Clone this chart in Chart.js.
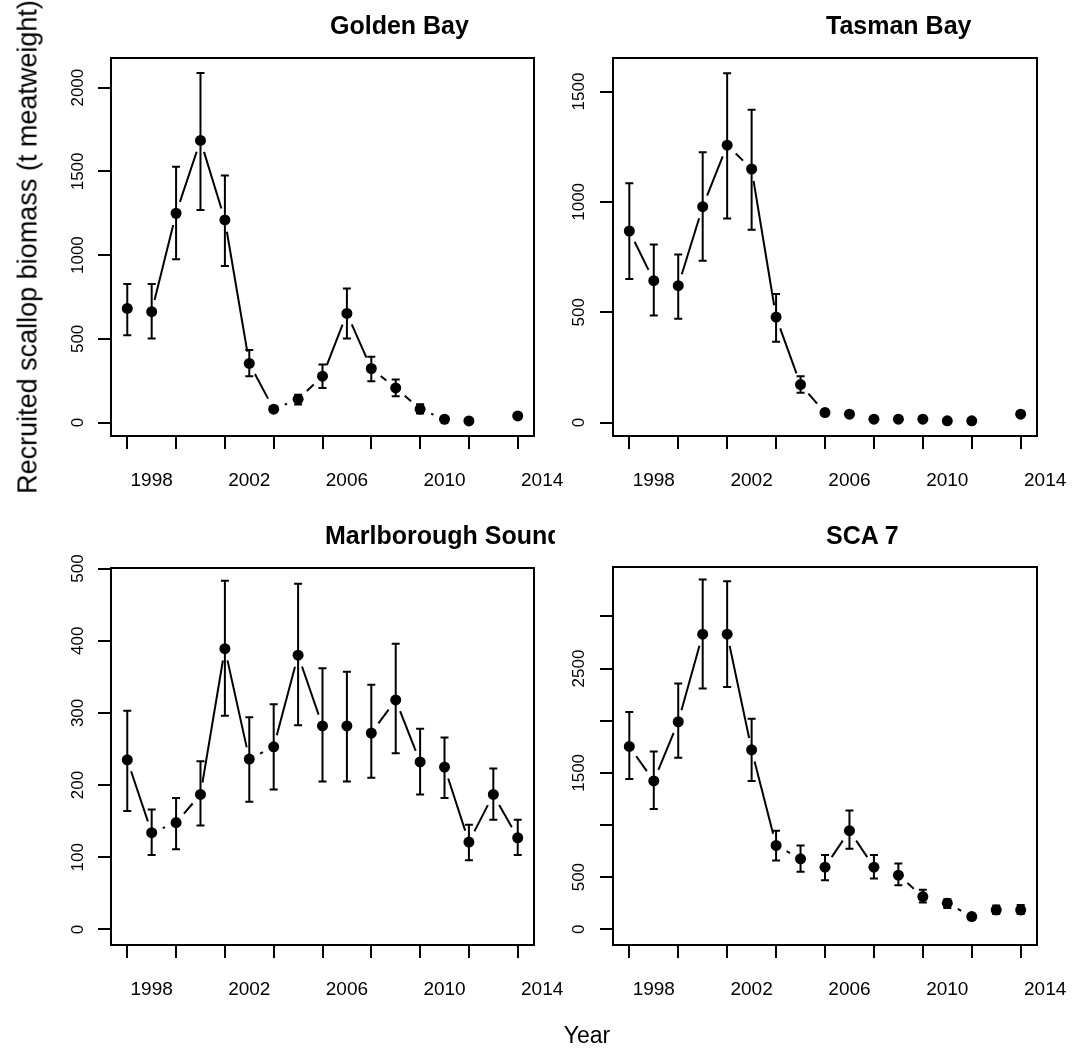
<!DOCTYPE html>
<html>
<head>
<meta charset="utf-8">
<script src="https://cdn.jsdelivr.net/npm/chart.js@4.4.0/dist/chart.umd.min.js"></script>
<style>
body { margin:0; background:#fff; width:1072px; height:1052px; position:relative; overflow:hidden; font-family:"Liberation Sans", Arial, sans-serif; color:#000; }
canvas { position:absolute; }
.ttl { position:absolute; font-weight:bold; font-size:25px; line-height:28px; white-space:nowrap; }
.clip { position:absolute; overflow:hidden; }
.lab { position:absolute; white-space:nowrap; transform:translate(-50%,-50%); }
</style>
</head>
<body>
<canvas id="gb" width="565" height="520" style="left:0px;top:0px"></canvas>
<canvas id="tb" width="532" height="520" style="left:540px;top:0px"></canvas>
<canvas id="ms" width="565" height="520" style="left:0px;top:505px"></canvas>
<canvas id="sc" width="532" height="520" style="left:540px;top:505px"></canvas>

<div class="ttl" style="left:330px;top:11px">Golden Bay</div>
<div class="ttl" style="left:826px;top:11px">Tasman Bay</div>
<div class="clip" style="left:0px;top:515px;width:555px;height:40px">
  <div class="ttl" style="left:325px;top:6px">Marlborough Sounds</div>
</div>
<div class="ttl" style="left:826px;top:521px">SCA 7</div>

<div class="lab" style="left:28px;top:247px;font-size:27px;transform:translate(-50%,-50%) rotate(-90deg)">Recruited scallop biomass (t meatweight)</div>
<div class="lab" style="left:587px;top:1035px;font-size:23px">Year</div>

<script>
// survey years (x positions of every estimate)
const years = [1997, 1998, 1999, 2000, 2001, 2002, 2003, 2004, 2005, 2006, 2007, 2008, 2009, 2010, 2011, 2012, 2013];
const xTickYears = [1997, 1999, 2001, 2003, 2005, 2007, 2009, 2011, 2013];
const xLabelYears = [1998, 2002, 2006, 2010, 2014];

// Golden Bay
const gbBiomass = [682, 662, 1250, 1685, 1210, 353, 80, 140, 277, 652, 323, 207, 80, 20, 10, null, 40];
const gbLower   = [522, 502, 975, 1270, 935, 277, 64, 108, 207, 502, 247, 158, 54, 12, 4, null, 28];
const gbUpper   = [827, 827, 1527, 2088, 1476, 433, 98, 167, 347, 800, 393, 257, 110, 30, 16, null, 54];
const gbYTicks  = [0, 500, 1000, 1500, 2000];

// Tasman Bay
const tbBiomass = [868, 643, 620, 978, 1257, 1149, 478, 172, 45, 38, 15, 15, 15, 8, 8, null, 38];
const tbLower   = [650, 485, 470, 733, 925, 874, 366, 135, 33, 27, 8, 8, 8, 3, 3, null, 27];
const tbUpper   = [1084, 807, 762, 1225, 1583, 1417, 582, 210, 58, 50, 22, 22, 22, 13, 13, null, 50];
const tbYTicks  = [0, 500, 1000, 1500];

// Marlborough Sounds
const msBiomass = [235, 134, 148, 187, 389, 236, 253, 380, 282, 282, 272, 318, 232, 225, 121, 187, 127];
const msLower   = [164, 103, 111, 144, 296, 177, 194, 283, 205, 205, 210, 244, 187, 182, 96, 152, 103];
const msUpper   = [303, 166, 182, 233, 483, 294, 312, 479, 362, 357, 339, 396, 278, 266, 145, 223, 152];
const msYTicks  = [0, 100, 200, 300, 400, 500];

// SCA 7
const scBiomass = [1753, 1423, 1990, 2830, 2830, 1721, 804, 676, 596, 946, 596, 519, 314, 250, 122, 186, 186];
const scLower   = [1442, 1154, 1644, 2308, 2324, 1423, 660, 551, 471, 772, 487, 423, 256, 205, 95, 147, 147];
const scUpper   = [2083, 1705, 2356, 3353, 3337, 2019, 946, 804, 712, 1138, 712, 631, 378, 288, 150, 228, 234];
const scYTicks  = [0, 500, 1000, 1500, 2000, 2500, 3000];
const scYLabels = ['0', '500', '', '1500', '', '2500', ''];

const FONT = '"Liberation Sans", Arial, sans-serif';
const TICK = 13, GAP = 12, CAP = 4, YW = 60;

function noPad(s) { s.paddingLeft = 0; s.paddingRight = 0; s.paddingTop = 0; s.paddingBottom = 0; }

// box, error bars and R "type=b" lines (gaps around each point)
const rPlot = {
  id: 'rPlot',
  beforeDatasetsDraw(chart) {
    const ctx = chart.ctx, xs = chart.scales.x, ys = chart.scales.y;
    const ds = chart.data.datasets[0];
    const pts = chart.getDatasetMeta(0).data;
    ctx.save();
    ctx.strokeStyle = '#000';
    ctx.lineWidth = 2;
    ds.lower.forEach((lo, i) => {
      const hi = ds.upper[i];
      if (lo == null || hi == null) return;
      const px = xs.getPixelForValue(ds.data[i].x);
      const y0 = ys.getPixelForValue(lo), y1 = ys.getPixelForValue(hi);
      ctx.beginPath();
      ctx.moveTo(px, y0); ctx.lineTo(px, y1);
      ctx.moveTo(px - CAP, y0); ctx.lineTo(px + CAP, y0);
      ctx.moveTo(px - CAP, y1); ctx.lineTo(px + CAP, y1);
      ctx.stroke();
    });
    for (let i = 0; i + 1 < pts.length; i++) {
      const a = pts[i], b = pts[i + 1];
      if (a.skip || b.skip) continue;
      const dx = b.x - a.x, dy = b.y - a.y, len = Math.hypot(dx, dy);
      if (len <= 2 * GAP + 2) continue;
      const ux = dx / len, uy = dy / len;
      ctx.beginPath();
      ctx.moveTo(a.x + ux * GAP, a.y + uy * GAP);
      ctx.lineTo(b.x - ux * GAP, b.y - uy * GAP);
      ctx.stroke();
    }
    ctx.restore();
  },
  afterDraw(chart) {
    const {ctx, chartArea: a} = chart;
    ctx.save();
    ctx.strokeStyle = '#000';
    ctx.lineWidth = 2;
    ctx.strokeRect(a.left, a.top, a.right - a.left, a.bottom - a.top);
    ctx.restore();
  }
};

function panel(id, area, yMin, yMax, values, lower, upper, yTicks, yLabels, yPad) {
  const cv = document.getElementById(id);
  const W = cv.width, H = cv.height;
  new Chart(cv, {
    type: 'scatter',
    data: {
      datasets: [{
        data: years.map((y, i) => ({x: y, y: values[i]})),
        lower: lower,
        upper: upper,
        pointRadius: 5.5,
        pointBackgroundColor: '#000',
        pointBorderWidth: 0,
        showLine: false
      }]
    },
    options: {
      responsive: false,
      animation: false,
      devicePixelRatio: 1,
      layout: {
        autoPadding: false,
        padding: {left: area.l - YW, right: W - area.r, top: area.t, bottom: 0}
      },
      plugins: {legend: {display: false}, tooltip: {enabled: false}},
      scales: {
        x: {
          type: 'linear', position: 'bottom', min: 1996.333, max: 2013.667,
          afterBuildTicks: s => { s.ticks = xTickYears.map(v => ({value: v})); },
          afterFit: s => { s.height = TICK; noPad(s); },
          grid: {drawOnChartArea: false, tickLength: TICK, color: '#000', lineWidth: 2},
          border: {display: false},
          ticks: {display: false}
        },
        x2: {
          type: 'linear', position: 'bottom', min: 1996.333, max: 2013.667,
          afterBuildTicks: s => { s.ticks = xLabelYears.map(v => ({value: v})); },
          afterFit: s => { s.height = H - area.b - TICK; noPad(s); },
          grid: {display: false, drawTicks: false},
          border: {display: false},
          ticks: {color: '#000', font: {family: FONT, size: 19}, padding: 20,
                  autoSkip: false, maxRotation: 0, callback: v => String(v)}
        },
        y: {
          type: 'linear', position: 'left', min: yMin, max: yMax,
          afterBuildTicks: s => { s.ticks = yTicks.map(v => ({value: v})); },
          afterFit: s => { s.width = YW; noPad(s); },
          grid: {drawOnChartArea: false, tickLength: TICK, color: '#000', lineWidth: 2},
          border: {display: false},
          ticks: {color: '#000', font: {family: FONT, size: 17}, padding: yPad,
                  minRotation: 90, maxRotation: 90, crossAlign: 'center', autoSkip: false,
                  callback: (v, i) => yLabels ? yLabels[i] : String(v)}
        }
      }
    },
    plugins: [rPlot]
  });
}

panel('gb', {l: 111, r: 534, t: 58, b: 436}, -80, 2177, gbBiomass, gbLower, gbUpper, gbYTicks, null, 1);
panel('tb', {l: 73, r: 497, t: 58, b: 436}, -61, 1652, tbBiomass, tbLower, tbUpper, tbYTicks, null, 2);
panel('ms', {l: 111, r: 534, t: 63, b: 440}, -21.6, 500.8, msBiomass, msLower, msUpper, msYTicks, null, 6);
panel('sc', {l: 73, r: 497, t: 62, b: 440}, -150.7, 3474, scBiomass, scLower, scUpper, scYTicks, scYLabels, 2);
</script>
</body>
</html>
